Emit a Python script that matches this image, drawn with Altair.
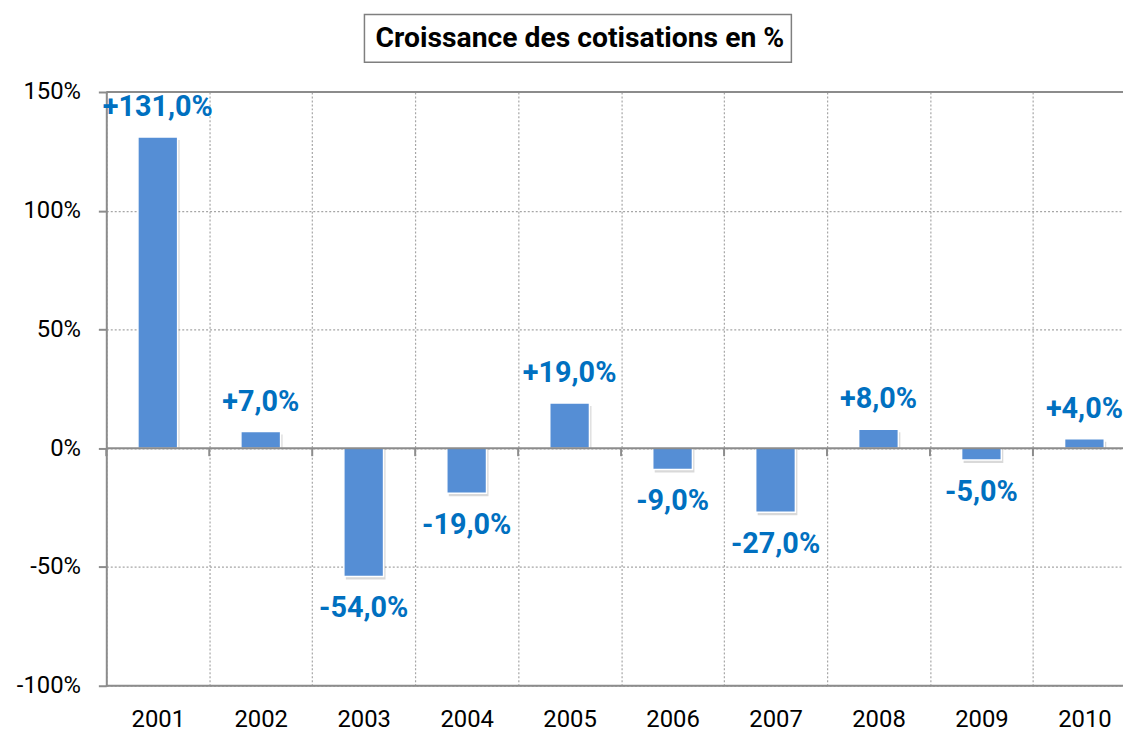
import altair as alt
import pandas as pd

years = ["2001", "2002", "2003", "2004", "2005", "2006", "2007", "2008", "2009", "2010"]
growth = [131.0, 7.0, -54.0, -19.0, 19.0, -9.0, -27.0, 8.0, -5.0, 4.0]
y_ticks = [-100, -50, 0, 50, 100, 150]
frame_lines = [-100, 0, 150]
title_text = "Croissance des cotisations en %"

df = pd.DataFrame({"year": years, "v": growth})
lines_df = pd.DataFrame({"v": frame_lines})
zero_df = pd.DataFrame({"year": years, "v": [0] * len(years)})

FONT = "Roboto"
GRAY = "#8c8c8c"
BAR = "#558ED5"
LABEL = "#0070C0"

yscale = alt.Scale(domain=[-100, 150], nice=False, zero=False)
xscale = alt.Scale(range=[0, 1037], paddingInner=0, paddingOuter=0)

x_main = alt.X(
    "year:N", sort=years, scale=xscale, title=None,
    axis=alt.Axis(
        orient="bottom", domain=False, ticks=False, grid=True, tickBand="extent",
        gridDash=[2, 2], gridColor="#a6a6a6", gridWidth=1.2,
        labelFont=FONT, labelFontSize=24, labelColor="black", labelPadding=22,
        labelAngle=0,
    ),
)
y_main = alt.Y(
    "v:Q", scale=yscale, title=None,
    axis=alt.Axis(
        values=y_ticks, labelExpr="datum.value + '%'", domain=True,
        domainColor=GRAY, domainWidth=2, ticks=True, tickSize=8, tickWidth=2,
        tickColor=GRAY, grid=True, gridDash=[2, 2], gridColor="#a6a6a6",
        gridWidth=1.2, labelFont=FONT, labelFontSize=24, labelColor="black",
        labelPadding=18,
    ),
)

x_plain = alt.X("year:N", sort=years, scale=xscale)
y_plain = alt.Y("v:Q", scale=yscale)

base = alt.Chart(df)

shadow = base.mark_bar(size=40, color="black", opacity=0.15, xOffset=2, yOffset=3).encode(
    x=x_main, y=y_main, y2=alt.datum(0)
)
bars = base.mark_bar(size=40, color=BAR, stroke="white", strokeWidth=1.5).encode(
    x=x_plain, y=y_plain, y2=alt.datum(0),
)

rules = alt.Chart(lines_df).mark_rule(color=GRAY, strokeWidth=2).encode(y=y_plain)

zero_ticks = alt.Chart(zero_df).mark_rule(
    color=GRAY, strokeWidth=2, y2Offset=8
).encode(
    x=alt.X("year:N", sort=years, scale=xscale, bandPosition=0),
    y=y_plain,
    y2="v:Q",
)

label_expr = ("(datum.v > 0 ? '+' : (datum.v < 0 ? '-' : '')) + "
              "replace(format(abs(datum.v), '.1f'), '.', ',') + '%'")
pos_labels = base.transform_filter("datum.v >= 0").transform_calculate(
    lab=label_expr
).mark_text(
    font=FONT, fontSize=29, fontWeight="bold", color=LABEL, dy=-30, baseline="middle"
).encode(x=x_plain, y=y_plain, text="lab:N")
neg_labels = base.transform_filter("datum.v < 0").transform_calculate(
    lab=label_expr
).mark_text(
    font=FONT, fontSize=29, fontWeight="bold", color=LABEL, dy=32, baseline="middle"
).encode(x=x_plain, y=y_plain, text="lab:N")

title_box = alt.Chart(pd.DataFrame({"t": [title_text]})).mark_rect(
    fill="white", stroke="#7f7f7f", strokeWidth=1.5
).encode(
    x=alt.value(260), x2=alt.value(690), y=alt.value(-78), y2=alt.value(-30)
)
title_txt = alt.Chart(pd.DataFrame({"t": [title_text]})).mark_text(
    font=FONT, fontSize=28.5, fontWeight="bold", color="black", baseline="middle",
    align="center",
).encode(x=alt.value(477), y=alt.value(-54), text="t:N")

chart = alt.layer(
    shadow, bars, rules, zero_ticks, pos_labels, neg_labels, title_box, title_txt
).properties(
    width=1024, height=598,
    autosize=alt.AutoSizeParams(type="none"),
    padding={"left": 99, "top": 82, "right": 0, "bottom": 45},
).configure_view(stroke=None).configure(background="white")

chart.save("out.html", embed_options={"renderer": "svg", "actions": False})
